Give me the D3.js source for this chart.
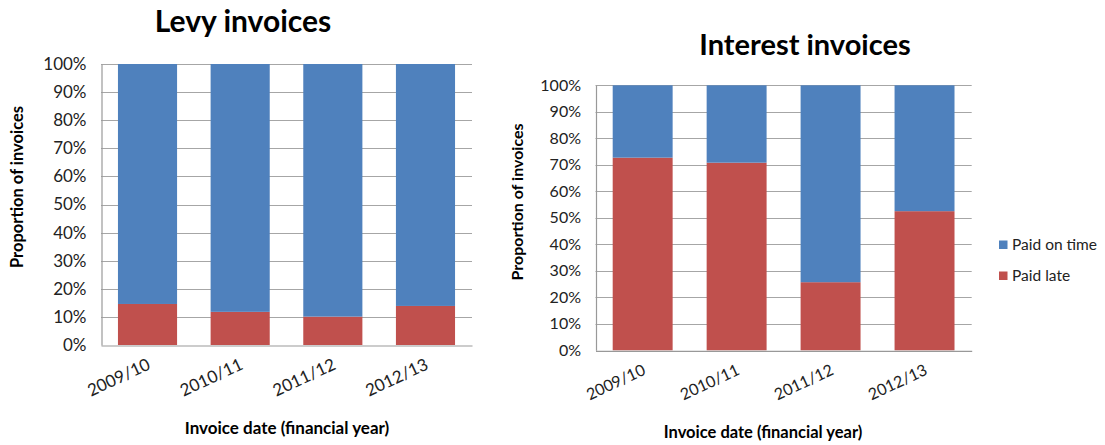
<!DOCTYPE html>
<html><head><meta charset="utf-8">
<script src="https://cdn.jsdelivr.net/npm/d3@7"></script>
<style>
html,body{margin:0;padding:0;background:#fff;}
svg{display:block;font-family:Lato,"Open Sans",sans-serif;}
</style></head>
<body><svg id="c" width="1105" height="445"></svg>
<script>
const categories = ["2009/10", "2010/11", "2011/12", "2012/13"];
const seriesNames = ["Paid late", "Paid on time"];
const levyPaidLate = [14.6, 11.8, 10.1, 13.9];
const levyPaidOnTime = [85.4, 88.2, 89.9, 86.1];
const interestPaidLate = [72.7, 70.8, 25.7, 52.5];
const interestPaidOnTime = [27.3, 29.2, 74.3, 47.5];
const yTicks = [0, 10, 20, 30, 40, 50, 60, 70, 80, 90, 100];
const colors = {"Paid late": "#C0504D", "Paid on time": "#4F81BD"};

const svg = d3.select("#c");

function drawChart(o) {
  const rows = categories.map((c, i) => ({cat: c, "Paid late": o.late[i], "Paid on time": o.onTime[i]}));
  const stack = d3.stack().keys(seriesNames)(rows);
  const x = d3.scaleBand().domain(categories).range([o.x0, o.x1]).paddingInner(0.362).paddingOuter(0.183);
  const y = d3.scaleLinear().domain([0, 100]).range([o.y0, o.y1]);
  const g = svg.append("g");

  // gridlines
  g.append("g").selectAll("line").data(yTicks.filter(t => t > 0)).join("line")
    .attr("x1", o.x0).attr("x2", o.x1)
    .attr("y1", d => Math.round(y(d)) + 0.5).attr("y2", d => Math.round(y(d)) + 0.5)
    .attr("stroke", "#a6a6a6").attr("stroke-width", 1.2);

  // bars
  g.append("g").selectAll("g").data(stack).join("g")
    .attr("fill", d => colors[d.key])
    .selectAll("rect").data(d => d).join("rect")
    .attr("x", d => x(d.data.cat))
    .attr("width", x.bandwidth())
    .attr("y", d => y(d[1]))
    .attr("height", d => y(d[0]) - y(d[1]));

  // y axis
  const ya = d3.axisLeft(y).tickValues(yTicks).tickFormat(d => d + "%").tickSize(0).tickPadding(o.yPad);
  const yg = g.append("g").attr("transform", `translate(${o.x0 + 0.5},0)`).call(ya);
  yg.select(".domain").attr("stroke", "#999").attr("stroke-width", 1.2);
  yg.selectAll("text").attr("font-size", o.tickFont).attr("fill", "#222").attr("font-family", "Lato, sans-serif");

  // x axis
  const xa = d3.axisBottom(x).tickSize(0).tickPadding(0);
  const xg = g.append("g").attr("transform", `translate(0,${o.y0 + 0.5})`).call(xa);
  xg.select(".domain").attr("stroke", "#999").attr("stroke-width", 1.2);
  xg.selectAll("text")
    .attr("font-size", o.tickFont).attr("fill", "#222").attr("font-family", "Lato, sans-serif")
    .attr("text-anchor", "end")
    .attr("dy", 0).attr("y", 0)
    .attr("transform", `translate(${o.xlabDx},${o.xlabDy}) rotate(-25)`);

  // title
  g.append("text").attr("x", o.titleX).attr("y", o.titleY).attr("text-anchor", "middle")
    .attr("font-size", o.titleFont).attr("font-weight", "bold").attr("fill", "#000").text(o.title);
  // y title
  g.append("text").attr("transform", `translate(${o.ytX},${o.ytY}) rotate(-90)`).attr("text-anchor", "middle")
    .attr("font-size", o.yTitleFont).attr("font-weight", "bold").attr("fill", "#000").text("Proportion of invoices");
  // x title
  g.append("text").attr("x", o.xtX).attr("y", o.xtY).attr("text-anchor", "middle")
    .attr("font-size", o.xTitleFont).attr("font-weight", "bold").attr("fill", "#000").text("Invoice date (financial year)");
}

drawChart({
  late: levyPaidLate, onTime: levyPaidOnTime, title: "Levy invoices",
  x0: 101, x1: 472, y0: 345, y1: 64, yPad: 15, tickFont: 17,
  xlabDx: 4, xlabDy: 23, titleX: 243, titleY: 32, titleFont: 30,
  ytX: 23, ytY: 187, yTitleFont: 16.5, xtX: 287, xtY: 434, xTitleFont: 17
});
drawChart({
  late: interestPaidLate, onTime: interestPaidOnTime, title: "Interest invoices",
  x0: 595.5, x1: 971.7, y0: 350.3, y1: 85.3, yPad: 15, tickFont: 16,
  xlabDx: 4, xlabDy: 23, titleX: 805, titleY: 55, titleFont: 29,
  ytX: 523, ytY: 202, yTitleFont: 16, xtX: 763, xtY: 438, xTitleFont: 16.5
});

// legend (right chart)
const legendItems = ["Paid on time", "Paid late"];
const lg = svg.append("g").attr("transform", "translate(999,0)");
const ly = d3.scalePoint().domain(legendItems).range([244.5, 275.5]);
lg.selectAll("rect").data(legendItems).join("rect")
  .attr("x", 0).attr("y", d => ly(d) - 4).attr("width", 8.5).attr("height", 8.5)
  .attr("fill", d => colors[d]);
lg.selectAll("text").data(legendItems).join("text")
  .attr("x", 13).attr("y", d => ly(d) + 5.5).attr("font-size", 15.5).attr("fill", "#222").text(d => d);
</script></body></html>
